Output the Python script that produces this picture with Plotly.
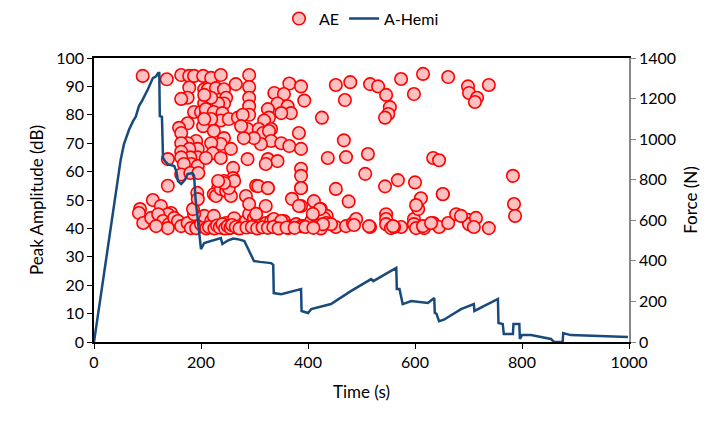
import plotly.graph_objects as go

# ---- AE hits: time (s) and peak amplitude (dB) ----
ae_time = [
    91, 136, 163, 178, 187, 204, 178, 175, 163, 206, 209, 206, 187, 200, 209, 204, 175, 159, 163,
    191, 175, 163, 194, 178, 163, 194, 180, 163, 182, 194, 168, 138, 163, 180, 195, 138, 110,
    219, 237, 290, 290, 290, 290, 290, 265, 365, 387, 393, 337, 355, 343, 362, 368, 350, 325,
    327, 318, 331, 213, 228, 243, 247, 243, 232, 219, 206, 209, 224, 240, 237, 219, 206, 252,
    269, 278, 287, 308, 316, 327, 331, 312, 299, 280, 275, 350, 365, 387, 383, 224, 243, 237,
    219, 222, 237, 256, 260, 209, 287, 325, 343, 321, 387, 387, 387, 303, 325, 260, 243, 232,
    250, 224,
    452, 479, 516, 531, 574, 615, 662, 699, 701, 546, 553, 550, 544, 598, 469, 426, 467, 512,
    471, 437, 634, 645, 507, 568, 600, 544, 452, 652, 370, 476, 611, 716, 712, 738, 783, 785, 787,
    424, 435, 430, 424, 452, 471, 484, 490, 486, 516, 546, 546, 546, 555, 574, 561, 598, 598,
    602, 617, 634, 645, 662, 677, 699, 701, 714, 710, 738, 606, 602, 686,
    86, 84, 125, 144, 138, 92, 107, 120, 129, 140, 150, 157, 138, 116, 163, 175, 181, 191, 200,
    209, 206, 187, 185, 193, 194,
    219, 224, 232, 241, 247, 252, 260, 262, 269, 278, 284, 290, 299, 303, 312, 321, 331, 336,
    340, 349, 355, 363, 368, 378, 387, 396, 406, 411, 430, 434, 443,
    228, 237, 247, 256, 252, 262, 243, 232, 284, 290, 307, 325, 321, 303, 387, 387, 411,
    383, 422, 409, 350, 391, 428, 514, 559, 615, 630, 652,
    210, 215, 225, 230, 235, 240, 245, 250, 255, 258, 265, 272, 285, 295, 305, 315, 325, 335,
    345, 360, 375, 395, 410,
]
ae_db = [
    93.7, 92.5, 94.0, 93.7, 93.7, 93.7, 89.6, 86.0, 85.6, 89.0, 86.0, 84.0, 81.0, 81.0, 80.0, 76.0, 77.0, 75.4, 73.6,
    70.8, 70.0, 70.0, 68.0, 68.0, 67.0, 65.0, 65.0, 65.0, 62.7, 62.0, 62.7, 64.4, 59.0, 59.5, 59.5, 55.0, 50.0,
    93.0, 94.0, 94.0, 89.8, 86.0, 83.0, 80.0, 90.8, 91.0, 90.0, 85.0, 87.7, 87.3, 84.0, 83.0, 80.6, 80.6, 82.0,
    79.0, 78.0, 75.0, 89.0, 89.4, 89.0, 86.0, 84.0, 84.0, 86.0, 87.0, 82.0, 81.0, 80.6, 78.0, 78.5, 78.5, 78.5,
    79.0, 80.0, 75.0, 75.0, 73.6, 74.3, 70.8, 69.7, 71.8, 71.8, 76.0, 70.0, 69.0, 68.0, 73.6, 74.3, 71.8, 69.7,
    70.0, 66.5, 64.8, 68.0, 61.3, 64.8, 64.4, 64.4, 63.7, 62.7, 61.0, 58.5, 54.2, 55.0, 54.2, 57.7, 56.7, 54.2,
    53.0, 52.0,
    90.5, 91.5, 90.8, 90.0, 92.6, 94.4, 93.3, 90.0, 87.7, 87.0, 82.7, 80.3, 79.0, 87.3, 85.2, 79.0, 71.0, 66.2,
    65.1, 64.8, 64.8, 64.0, 59.2, 57.0, 56.2, 54.8, 53.9, 52.0, 50.4, 49.5, 50.6, 86.0, 84.5, 90.5, 58.5, 48.6, 44.4,
    46.8, 44.4, 42.0, 40.0, 40.5, 40.8, 41.9, 43.3, 41.2, 40.5, 45.0, 43.3, 41.5, 40.1, 40.5, 40.5, 43.3, 41.5,
    40.1, 40.1, 41.9, 40.5, 41.9, 45.0, 43.0, 41.5, 43.7, 40.5, 40.1, 46.8, 48.2, 44.4,
    46.8, 45.4, 47.9, 45.4, 45.0, 41.9, 43.7, 45.0, 42.6, 41.5, 43.7, 42.6, 40.1, 40.8, 40.8, 41.9, 40.1, 40.1, 41.5,
    41.9, 44.4, 45.0, 46.8, 52.5, 50.3,
    42.6, 44.4, 40.8, 40.1, 41.9, 40.1, 41.5, 43.6, 40.1, 41.5, 42.6, 45.1, 43.6, 41.5, 41.5, 41.9, 42.6, 43.3,
    40.8, 41.5, 42.6, 40.1, 40.8, 41.5, 40.8, 40.8, 42.6, 45.1, 43.6, 41.9, 41.5,
    51.4, 53.9, 53.2, 51.4, 54.2, 56.7, 56.0, 56.7, 51.4, 48.6, 54.9, 54.2, 47.9, 45.1, 54.2, 47.9, 49.6,
    47.9, 46.8, 45.1, 42.6, 40.8, 41.5, 40.8, 40.8, 40.8, 41.9, 52.1,
    40.0, 40.5, 40.0, 41.0, 40.3, 41.5, 40.0, 40.8, 40.2, 41.2, 40.5, 40.0, 40.3, 40.5, 40.0, 40.4, 40.2, 40.5,
    40.0, 40.3, 40.2, 40.5, 40.2,
]

# ---- A-Hemi force curve: time (s) and force (N) ----
force_time = [
    0, 41, 50, 56, 60, 66, 73, 78, 84, 90, 101, 110, 116, 120, 122, 123, 127, 129, 133, 138, 150,
    154, 157, 163, 170, 175, 184, 187, 190, 195, 199, 200, 206, 215, 225, 237, 240, 250, 260,
    269, 281, 290, 299, 310, 331, 335, 336, 350, 387, 388, 400, 406, 443, 480, 500, 518, 522,
    565, 566, 571, 577, 593, 624, 636, 637, 640, 645, 654, 686, 710, 711, 755, 756, 764, 766,
    783, 784, 795, 796, 800, 817, 854, 860, 876, 877, 891, 998,
]
force_n = [
    0, 744, 900, 975, 1010, 1050, 1089, 1110, 1163, 1190, 1247, 1301, 1310, 1326, 1326, 1114, 1110,
    907, 890, 877, 867, 840, 793, 779, 800, 828, 833, 820, 700, 560, 460, 458, 488, 495, 500,
    512, 483, 500, 510, 507, 498, 450, 399, 395, 389, 380, 241, 236, 261, 153, 143, 162, 187,
    251, 280, 310, 300, 365, 261, 261, 187, 202, 192, 217, 143, 140, 103, 110, 162, 187, 153,
    212, 94, 89, 39, 39, 89, 89, 15, 34, 34, 15, 0, 0, 44, 34, 25,
]

x_ticks = [0, 200, 400, 600, 800, 1000]
y_left_ticks = [0, 10, 20, 30, 40, 50, 60, 70, 80, 90, 100]
y_right_ticks = [0, 200, 400, 600, 800, 1000, 1200, 1400]

FONT = "Lato, Open Sans, sans-serif"

fig = go.Figure()
fig.add_trace(go.Scatter(
    x=ae_time, y=ae_db, mode="markers", name="AE",
    marker=dict(size=12.5, color="rgb(255,192,194)", line=dict(color="rgb(255,0,0)", width=1.6)),
    yaxis="y",
))
fig.add_trace(go.Scatter(
    x=force_time, y=force_n, mode="lines", name="A-Hemi",
    line=dict(color="rgb(24,74,124)", width=2.5),
    yaxis="y2",
))

fig.update_layout(
    width=725, height=425,
    margin=dict(l=86, r=104, t=50, b=91, autoexpand=False),
    plot_bgcolor="white", paper_bgcolor="white",
    font=dict(family=FONT, size=16, color="black"),
    showlegend=True,
    legend=dict(orientation="h", x=0.5, xanchor="center", y=0.975, yref="container",
                yanchor="middle", font=dict(size=16)),
    xaxis=dict(
        range=[0, 1000], tickvals=x_ticks, ticks="outside", ticklen=5, tickcolor="black",
        showline=True, linecolor="black", linewidth=1.5, mirror=True, showgrid=False,
        zeroline=False, title=dict(text="Time (s)", font=dict(size=17), standoff=16),
    ),
    yaxis=dict(
        range=[0, 100], tickvals=y_left_ticks, ticks="outside", ticklen=5, tickcolor="black",
        showline=True, linecolor="black", linewidth=1.5, showgrid=False, zeroline=False,
        title=dict(text="Peak Amplitude (dB)", font=dict(size=17), standoff=8),
    ),
    yaxis2=dict(
        range=[0, 1400], tickvals=y_right_ticks, overlaying="y", side="right",
        ticks="outside", ticklen=5, tickcolor="#888888",
        showline=True, linecolor="#888888", linewidth=1.5, showgrid=False, zeroline=False,
        title=dict(text="Force (N)", font=dict(size=17), standoff=10),
    ),
)

fig.write_html("out.html")
